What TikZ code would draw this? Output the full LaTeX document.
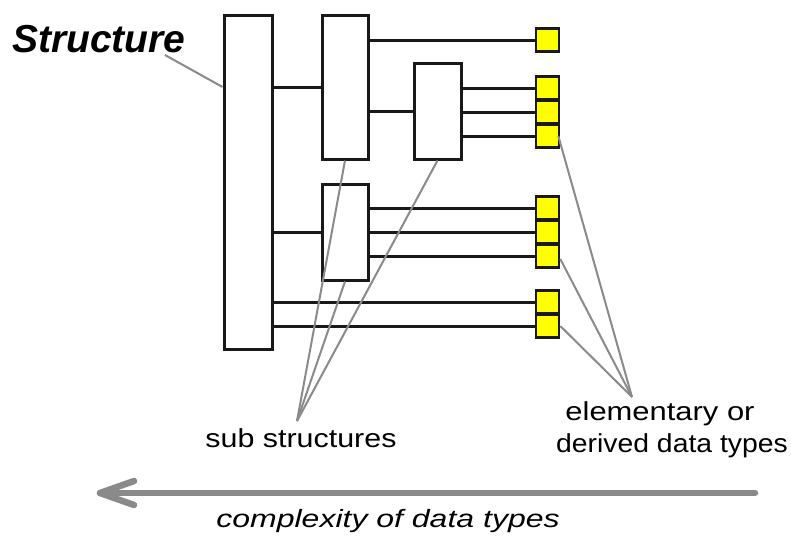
\documentclass[tikz,border=0pt]{standalone}
\usepackage{fontspec}
\usepackage{graphicx}
\setmainfont{Liberation Sans}
\usetikzlibrary{calc}

\definecolor{leadgrey}{HTML}{8A8A8A}
\definecolor{boxyellow}{HTML}{FFFF00}

\tikzset{
  structbox/.style={draw=black!90, line width=3pt, inner sep=0pt, rectangle},
  typebox/.style={draw=black!90, fill=boxyellow, line width=2.6pt, inner sep=0pt,
    minimum width=23pt, minimum height=23pt},
  link/.style={draw=black!90, line width=3pt},
  leader/.style={draw=leadgrey, line width=2pt},
  bigarrow/.style={draw=leadgrey, line width=6.5pt, line cap=round, line join=round},
  lbl/.style={inner sep=0pt, font=\fontsize{26}{32}\selectfont},
}

\begin{document}
\begin{tikzpicture}[x=1pt, y=-1pt]
  \path[use as bounding box] (0,0) rectangle (791,538);

  % structure and sub structures
  \node[structbox, minimum width=48pt, minimum height=334pt] (big) at (248,182) {};
  \node[structbox, minimum width=46pt, minimum height=144pt] (subA) at (345,87) {};
  \node[structbox, minimum width=47pt, minimum height=96pt] (subB) at (437.5,111) {};
  \node[structbox, minimum width=46pt, minimum height=96pt] (subC) at (345,232) {};

  % elementary / derived data types
  \foreach \n/\y in {1/40, 2/88, 3/112, 4/136, 5/208, 6/232, 7/256, 8/302, 9/326}
    \coordinate (c\n) at (547.5,\y);

  % links from the structures to their parts
  \draw[link] (big.east |- subA.west) -- (subA.west);
  \draw[link] (subA.east |- subB.west) -- (subB.west);
  \draw[link] (big.east |- subC.west) -- (subC.west);
  \draw[link] (subA.east |- c1) -- (c1);
  \foreach \n in {2,3,4} \draw[link] (subB.east |- c\n) -- (c\n);
  \foreach \n in {5,6,7} \draw[link] (subC.east |- c\n) -- (c\n);
  \foreach \n in {8,9} \draw[link] (big.east |- c\n) -- (c\n);

  \foreach \n in {1,...,9} \node[typebox] (t\n) at (c\n) {};

  % labels
  \node[inner sep=0pt, anchor=base west, font=\fontsize{39}{44}\selectfont\bfseries\itshape]
    (structlbl) at (12,52) {Structure};
  \node[lbl, anchor=base] (sublbl) at (301,447) {\scalebox{1.17}[1]{sub structures}};
  \node[lbl, anchor=base] (ellbl1) at (660,420) {\scalebox{1.19}[1]{elementary or}};
  \node[lbl, anchor=base] (ellbl2) at (672,452) {\scalebox{1.09}[1]{derived data types}};
  \node[inner sep=0pt, anchor=base, font=\fontsize{25}{30}\selectfont\itshape]
    (cplx) at (388,527) {\scalebox{1.28}[1]{complexity of data types}};

  % leader lines
  \coordinate (structtip) at (165,55);
  \coordinate (subtip) at (297,421);
  \coordinate (eltip) at (632,397);
  \draw[leader] (structtip) -- (big.west |- subA.west);
  \draw[leader] (subtip) -- (subA.south);
  \draw[leader] (subtip) -- (subC.south);
  \draw[leader] (subtip) -- (subB.south);
  \draw[leader] (eltip) -- ($(t4.east)+(-2,0)$);
  \draw[leader] (eltip) -- ($(t7.east)+(0,3)$);
  \draw[leader] (eltip) -- (t9.east);

  % complexity arrow
  \coordinate (arrR) at (755,493);
  \coordinate (arrL) at (100,493);
  \draw[bigarrow] (arrR) -- (arrL);
  \draw[bigarrow] ($(arrL)+(34,-12)$) -- (arrL) -- ($(arrL)+(34,12)$);
\end{tikzpicture}
\end{document}
